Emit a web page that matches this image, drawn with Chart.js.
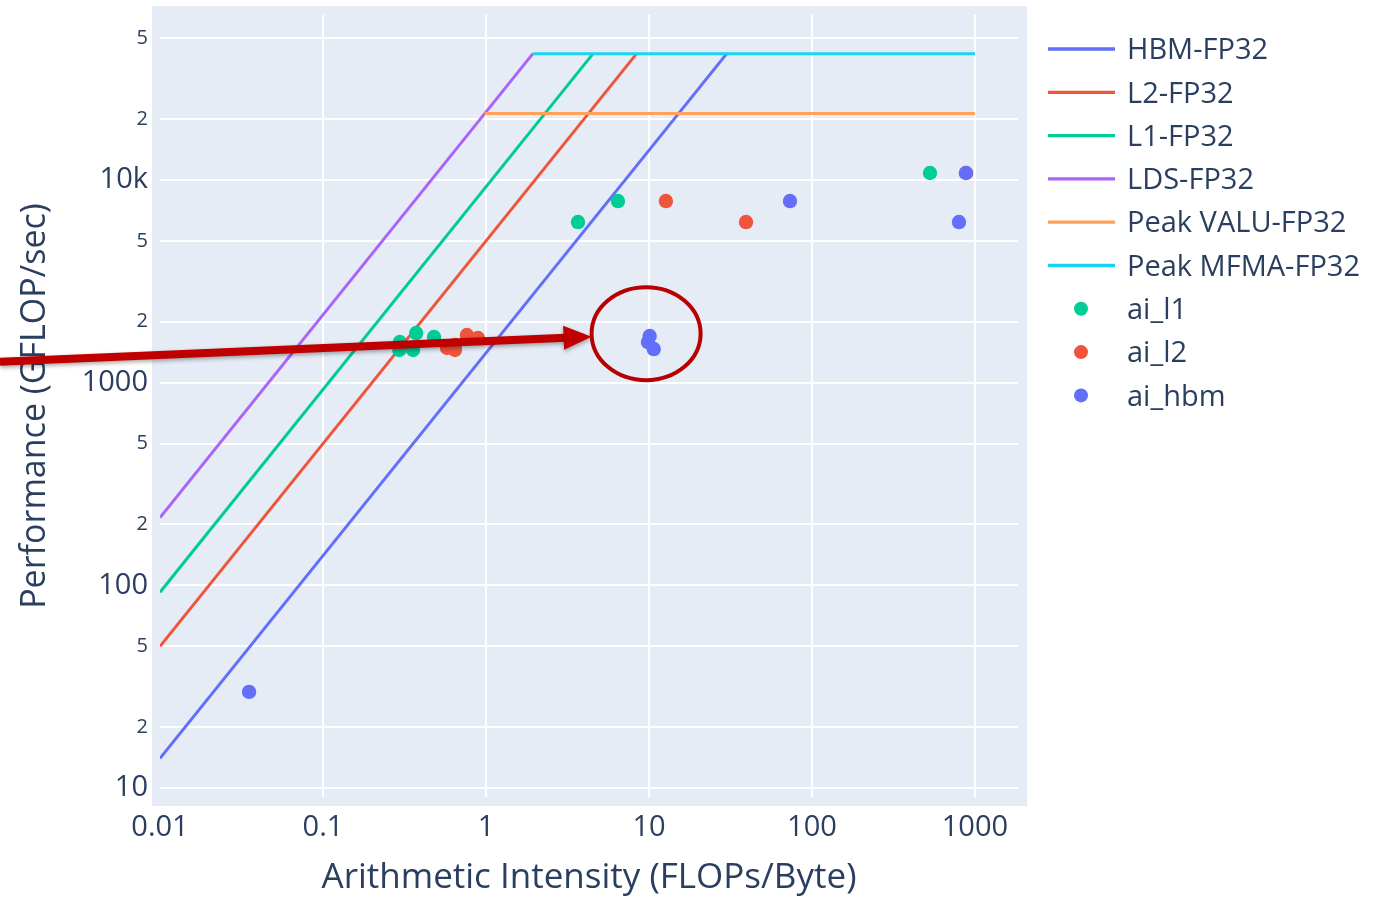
<!DOCTYPE html>
<html>
<head>
<meta charset="utf-8">
<title>Roofline</title>
<script src="https://cdn.jsdelivr.net/npm/chart.js@4"></script>
<style>
  html, body { margin: 0; padding: 0; background: #fff; }
  #wrap { width: 1378px; height: 899px; }
</style>
</head>
<body>
<div id="wrap"><canvas id="roofline" width="1378" height="899"></canvas></div>
<script>
// roofline endpoints (AI in FLOPs/Byte, perf in GFLOP/sec)
const hbmX = [0.01, 30.0];
const hbmY = [14.0, 42000];
const l2X = [0.01, 8.4];
const l2Y = [50, 42000];
const l1X = [0.01, 4.54];
const l1Y = [92.5, 42000];
const ldsX = [0.01, 1.94];
const ldsY = [216, 42000];
const valuX = [0.98, 1000];
const valuY = [21300, 21300];
const mfmaX = [1.94, 1000];
const mfmaY = [42000, 42000];

// measured kernels
const l1AI = [0.296, 0.294, 0.373, 0.357, 0.480, 3.67, 6.45, 530];
const l1Perf = [1586, 1449, 1757, 1449, 1679, 6200, 7870, 10820];
const l2AI = [0.577, 0.645, 0.645, 0.764, 0.893, 12.7, 39.4, 881];
const l2Perf = [1482, 1534, 1449, 1717, 1660, 7870, 6200, 10820];
const hbmAI = [0.0352, 10.1, 10.7, 9.86, 73.3, 881, 798];
const hbmPerf = [29.8, 1698, 1465, 1586, 7870, 10820, 6200];

// axis ticks
const xTickVals = [0.01, 0.1, 1, 10, 100, 1000];
const xTickLabels = ['0.01', '0.1', '1', '10', '100', '1000'];
const yTickVals = [10, 20, 50, 100, 200, 500, 1000, 2000, 5000, 10000, 20000, 50000];
const yTickLabels = ['10', '2', '5', '100', '2', '5', '1000', '2', '5', '10k', '2', '5'];

// highlighted cluster (red ring)
const ringAI = 9.6;
const ringPerf = 1745;

const FONT = "'Open Sans', 'DejaVu Sans', sans-serif";
const TEXT = '#2a3f5f';

function pts(xs, ys) {
  return xs.map((x, i) => ({ x: x, y: ys[i] }));
}

function lineSet(label, xs, ys, color, order) {
  return {
    label: label,
    data: pts(xs, ys),
    showLine: true,
    borderColor: color,
    backgroundColor: color,
    borderWidth: 3,
    pointRadius: 0,
    order: order
  };
}

function dotSet(label, xs, ys, color, order) {
  return {
    label: label,
    data: pts(xs, ys),
    showLine: false,
    backgroundColor: color,
    borderColor: color,
    borderWidth: 0,
    pointRadius: 7.2,
    pointHoverRadius: 7.2,
    order: order
  };
}

const plotBg = {
  id: 'plotBg',
  beforeDraw(chart) {
    const a = chart.chartArea;
    const ctx = chart.ctx;
    ctx.save();
    ctx.fillStyle = '#E5ECF6';
    ctx.fillRect(a.left - 8, a.top - 9, a.right - a.left + 17, a.bottom - a.top + 18);
    ctx.restore();
  }
};

const sideLegend = {
  id: 'sideLegend',
  afterDraw(chart) {
    const ctx = chart.ctx;
    ctx.save();
    ctx.font = '29px ' + FONT;
    ctx.textBaseline = 'middle';
    chart.data.datasets.forEach((ds, i) => {
      const y = 49 + i * 43.3;
      if (ds.showLine) {
        ctx.strokeStyle = ds.borderColor;
        ctx.lineWidth = 3.3;
        ctx.beginPath();
        ctx.moveTo(1048, y);
        ctx.lineTo(1115, y);
        ctx.stroke();
      } else {
        ctx.fillStyle = ds.backgroundColor;
        ctx.beginPath();
        ctx.arc(1081, y, 7, 0, Math.PI * 2);
        ctx.fill();
      }
      ctx.fillStyle = TEXT;
      ctx.fillText(ds.label, 1127, y + 2);
    });
    ctx.restore();
  }
};

const callout = {
  id: 'callout',
  afterDraw(chart) {
    const ctx = chart.ctx;
    const cx = chart.scales.x.getPixelForValue(ringAI);
    const cy = chart.scales.y.getPixelForValue(ringPerf);
    const rx = 54.5, ry = 46.5;
    const tipX = cx - rx, tipY = cy + 3;
    const tailX = 0, tailY = tipY + 25;
    const ang = Math.atan2(tipY - tailY, tipX - tailX);
    const headLen = 28, headHalf = 12;
    const bx = tipX - headLen * Math.cos(ang), by = tipY - headLen * Math.sin(ang);

    ctx.save();
    ctx.shadowColor = 'rgba(0,0,0,0.35)';
    ctx.shadowBlur = 4;
    ctx.shadowOffsetY = 2;
    ctx.strokeStyle = '#C00000';
    ctx.fillStyle = '#C00000';
    ctx.lineWidth = 8;
    ctx.beginPath();
    ctx.moveTo(tailX, tailY);
    ctx.lineTo(bx + 2, by);
    ctx.stroke();
    ctx.beginPath();
    ctx.moveTo(tipX, tipY);
    ctx.lineTo(bx + headHalf * Math.sin(ang), by - headHalf * Math.cos(ang));
    ctx.lineTo(bx - headHalf * Math.sin(ang), by + headHalf * Math.cos(ang));
    ctx.closePath();
    ctx.fill();
    ctx.restore();

    ctx.save();
    ctx.strokeStyle = '#B80000';
    ctx.lineWidth = 4;
    ctx.beginPath();
    ctx.ellipse(cx, cy, rx, ry, 0, 0, Math.PI * 2);
    ctx.stroke();
    ctx.restore();
  }
};

const chart = new Chart(document.getElementById('roofline').getContext('2d'), {
  type: 'scatter',
  data: {
    datasets: [
      lineSet('HBM-FP32', hbmX, hbmY, '#636efa', 8),
      lineSet('L2-FP32', l2X, l2Y, '#EF553B', 7),
      lineSet('L1-FP32', l1X, l1Y, '#00cc96', 6),
      lineSet('LDS-FP32', ldsX, ldsY, '#ab63fa', 5),
      lineSet('Peak VALU-FP32', valuX, valuY, '#FFA15A', 4),
      lineSet('Peak MFMA-FP32', mfmaX, mfmaY, '#19d3f3', 3),
      dotSet('ai_l1', l1AI, l1Perf, '#00cc96', 2),
      dotSet('ai_l2', l2AI, l2Perf, '#EF553B', 1),
      dotSet('ai_hbm', hbmAI, hbmPerf, '#636efa', 0)
    ]
  },
  options: {
    responsive: false,
    animation: false,
    devicePixelRatio: 1,
    layout: { padding: { top: 15, right: 360, bottom: 0, left: 0 } },
    plugins: {
      legend: { display: false },
      tooltip: { enabled: false }
    },
    scales: {
      x: {
        type: 'logarithmic',
        min: 0.01,
        max: 1837,
        afterBuildTicks: (scale) => { scale.ticks = xTickVals.map(v => ({ value: v })); },
        afterFit: (scale) => {
          scale.height = 102;
          scale.paddingLeft = 0;
          scale.paddingRight = 0;
        },
        border: { display: false },
        grid: {
          color: (ctx) => (ctx.index === 0 ? 'rgba(0,0,0,0)' : '#ffffff'),
          lineWidth: 2,
          drawTicks: false
        },
        ticks: {
          autoSkip: false,
          maxRotation: 0,
          padding: 13,
          color: TEXT,
          font: { family: FONT, size: 29 },
          callback: (v, i) => xTickLabels[i]
        },
        title: {
          display: true,
          text: 'Arithmetic Intensity (FLOPs/Byte)',
          color: TEXT,
          font: { family: FONT, size: 35 },
          padding: { top: 1, bottom: 0 }
        }
      },
      y: {
        type: 'logarithmic',
        min: 9.03,
        max: 65150,
        afterBuildTicks: (scale) => { scale.ticks = yTickVals.map(v => ({ value: v })); },
        afterFit: (scale) => {
          scale.width = 160;
          scale.paddingTop = 0;
          scale.paddingBottom = 0;
        },
        border: { display: false },
        grid: { color: '#ffffff', lineWidth: 2, drawTicks: false },
        ticks: {
          autoSkip: false,
          padding: 12,
          color: TEXT,
          font: (ctx) => ({
            family: FONT,
            size: (yTickLabels[ctx.index] === '2' || yTickLabels[ctx.index] === '5') ? 20 : 29
          }),
          callback: (v, i) => yTickLabels[i]
        },
        title: {
          display: true,
          text: 'Performance (GFLOP/sec)',
          color: TEXT,
          font: { family: FONT, size: 34 },
          padding: { top: 15, bottom: 0 }
        }
      }
    }
  },
  plugins: [plotBg, sideLegend, callout]
});
</script>
</body>
</html>
